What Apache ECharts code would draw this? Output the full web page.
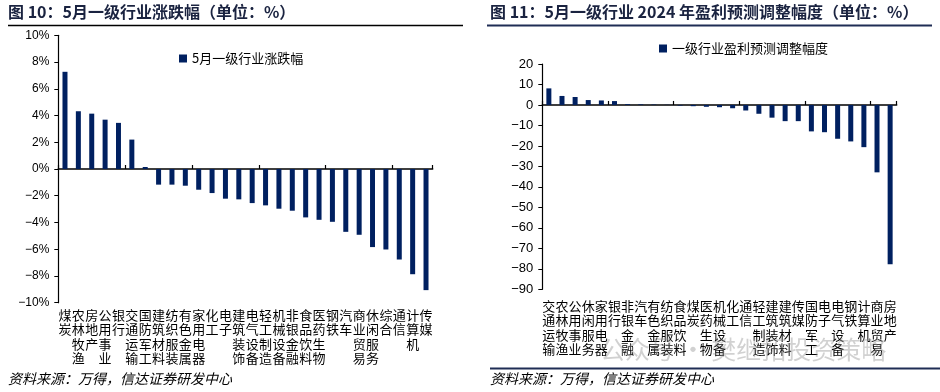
<!DOCTYPE html>
<html><head><meta charset="utf-8">
<script src="https://cdn.jsdelivr.net/npm/echarts@6/dist/echarts.min.js"></script>
<style>html,body{margin:0;padding:0;background:#fff}#c{width:940px;height:392px}</style>
</head><body><div id="c"></div>
<script>
const titleLeft = '图 10：5月一级行业涨跌幅（单位：%）';
const titleRight = '图 11：5月一级行业 2024 年盈利预测调整幅度（单位：%）';
const seriesNameLeft = '5月一级行业涨跌幅';
const seriesNameRight = '一级行业盈利预测调整幅度';
const sourceText = '资料来源：万得，信达证券研发中心';
const watermarkText = '公众号 · 樊继拓投资策略';

const catsLeft = ['煤炭','农林牧渔','房地产','公用事业','银行','交通运输','国防军工','建筑材料','纺织服装','有色金属','家用电器','化工','电子','建筑装饰','电气设备','轻工制造','机械设备','非银金融','食品饮料','医药生物','钢铁','汽车','商业贸易','休闲服务','综合','通信','计算机','传媒'];
const valsLeft = [7.27, 4.32, 4.14, 3.69, 3.45, 2.2, 0.15, -1.17, -1.17, -1.25, -1.55, -1.8, -2.22, -2.27, -2.55, -2.72, -2.97, -3.12, -3.62, -3.8, -3.95, -4.7, -4.92, -5.84, -6.02, -6.77, -7.87, -9.06];

const catsRight = ['交通运输','农林牧渔','公用事业','休闲服务','家用电器','银行','非银金融','汽车','有色金属','纺织服装','食品饮料','煤炭','医药生物','机械设备','化工','通信','轻工制造','建筑装饰','建筑材料','传媒','国防军工','电子','电气设备','钢铁','计算机','商业贸易','房地产'];
const valsRight = [8.1, 4.4, 3.9, 2.4, 2.2, 1.9, 0.4, 0.3, 0.2, 0.1, -0.3, -0.6, -0.9, -1.1, -1.6, -2.7, -4.3, -6.2, -7.9, -7.9, -12.9, -13.3, -16.5, -17.8, -20.6, -32.9, -77.8];

const BAR = '#002060';
const NUMFONT = '"Liberation Sans", Arial, sans-serif';
const CJK = '"Noto Sans CJK SC", sans-serif';
const fmtMinus = s => String(s).replace('-', '\u2212');

const chart = echarts.init(document.getElementById('c'), null, {renderer: 'canvas'});

function zeroAxis(grid, cats) {
  return {type: 'category', gridIndex: grid, data: cats, position: 'bottom',
    axisLine: {onZero: true, lineStyle: {color: '#000', width: 1.5}},
    axisTick: {show: true, inside: true, length: 4, lineStyle: {color: '#000', width: 1.2}},
    axisLabel: {show: false}, splitLine: {show: false}};
}
function labelAxis(grid, cats, margin, lh) {
  return {type: 'category', gridIndex: grid, data: cats, position: 'bottom',
    axisLine: {show: false, onZero: false}, axisTick: {show: false}, splitLine: {show: false},
    axisLabel: {interval: 0, margin: margin, color: '#000', fontFamily: CJK, fontSize: 13, lineHeight: lh,
      formatter: v => v.split('').join('\n')}};
}

chart.setOption({
  animation: false,
  grid: [
    {left: 58.3, right: 507.3, top: 35.3, bottom: 89.3},
    {left: 542.3, right: 43.3, top: 64, bottom: 102.7}
  ],
  legend: [
    {data: [seriesNameLeft], left: 174, top: 47, itemWidth: 8, itemHeight: 8, itemGap: 4,
      textStyle: {fontFamily: CJK, fontSize: 13, color: '#000'}, icon: 'rect'},
    {data: [seriesNameRight], left: 654, top: 37, itemWidth: 8, itemHeight: 8, itemGap: 4,
      textStyle: {fontFamily: CJK, fontSize: 13, color: '#000'}, icon: 'rect'}
  ],
  xAxis: [
    zeroAxis(0, catsLeft), labelAxis(0, catsLeft, 5, 14.4),
    zeroAxis(1, catsRight), labelAxis(1, catsRight, 9, 14.6)
  ],
  yAxis: [
    {type: 'value', gridIndex: 0, min: -10, max: 10, interval: 2,
      axisLine: {show: true, lineStyle: {color: '#000', width: 1.2}},
      axisTick: {show: true, length: 4, lineStyle: {color: '#000'}},
      splitLine: {show: false},
      axisLabel: {margin: 9, color: '#000', fontFamily: NUMFONT, fontSize: 12, formatter: v => fmtMinus(v + '%')}},
    {type: 'value', gridIndex: 1, min: -90, max: 20, interval: 10,
      axisLine: {show: true, lineStyle: {color: '#000', width: 1.2}},
      axisTick: {show: true, length: 4, lineStyle: {color: '#000'}},
      splitLine: {show: false},
      axisLabel: {margin: 9, color: '#000', fontFamily: NUMFONT, fontSize: 13, formatter: v => fmtMinus(v)}}
  ],
  series: [
    {name: seriesNameLeft, type: 'bar', xAxisIndex: 0, yAxisIndex: 0, data: valsLeft, barWidth: 5,
      itemStyle: {color: BAR}},
    {name: seriesNameRight, type: 'bar', xAxisIndex: 2, yAxisIndex: 1, data: valsRight, barWidth: 5,
      itemStyle: {color: BAR}}
  ],
  graphic: [
    {type: 'text', left: 8, top: 4, style: {text: titleLeft, fontFamily: CJK, fontWeight: 'bold', fontSize: 16, fill: '#1a2340'}},
    {type: 'line', shape: {x1: 8, y1: 25.5, x2: 463, y2: 25.5}, style: {stroke: '#000', lineWidth: 1.5}},
    {type: 'text', left: 490, top: 4, style: {text: titleRight, fontFamily: CJK, fontWeight: 'bold', fontSize: 16, fill: '#1a2340'}},
    {type: 'line', shape: {x1: 487, y1: 25.5, x2: 932, y2: 25.5}, style: {stroke: '#1f2d55', lineWidth: 2}},
    {type: 'line', shape: {x1: 490, y1: 368.5, x2: 940, y2: 368.5}, style: {stroke: '#1f2d55', lineWidth: 2}},
    {type: 'text', left: 8, top: 372, style: {text: sourceText, fontFamily: CJK, fontStyle: 'italic', fontSize: 14, fill: '#000'}},
    {type: 'text', left: 490, top: 372, style: {text: sourceText, fontFamily: CJK, fontStyle: 'italic', fontSize: 14, fill: '#000'}},
    {type: 'text', left: 600, top: 337, z: 100, style: {text: watermarkText, fontFamily: CJK, fontSize: 25, fill: 'rgba(140,140,140,0.4)'}}
  ]
});
</script></body></html>
